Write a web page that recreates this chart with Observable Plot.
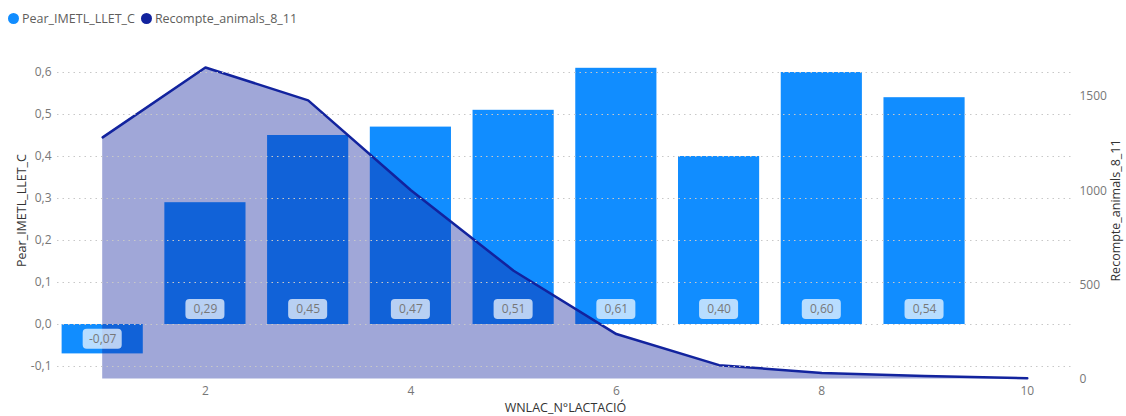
<!DOCTYPE html>
<html>
<head>
<meta charset="utf-8">
<script src="https://cdn.jsdelivr.net/npm/d3@7"></script>
<script src="https://cdn.jsdelivr.net/npm/@observablehq/plot@0.6"></script>
<style>
  body { margin: 0; background: #fff; font-family: "Segoe UI", "Open Sans", sans-serif; }
  #legend { height: 36px; display: flex; align-items: center; padding-left: 8px; font-size: 12.5px; color: #605e5c; }
  #legend span.item { display: inline-flex; align-items: center; margin-right: 6px; }
  #legend span.dot { width: 11px; height: 11px; border-radius: 50%; display: inline-block; margin-right: 3px; }
</style>
</head>
<body>
<div id="legend"></div>
<div id="chart"></div>
<script>
// ---- data ----
const lactations = [1, 2, 3, 4, 5, 6, 7, 8, 9];
const pearValues = [-0.07, 0.29, 0.45, 0.47, 0.51, 0.61, 0.40, 0.60, 0.54];
const countLactations = [1, 2, 3, 4, 5, 6, 7, 8, 9, 10];
const countValues = [1283, 1654, 1479, 1002, 575, 239, 74, 32, 16, 5];
const leftTicks = [-0.1, 0, 0.1, 0.2, 0.3, 0.4, 0.5, 0.6];
const rightTicks = [0, 500, 1000, 1500];
const xTicks = [2, 4, 6, 8, 10];
const seriesNames = ["Pear_IMETL_LLET_C", "Recompte_animals_8_11"];
const xTitle = "WNLAC_N°LACTACIÓ";
const seriesColors = ["#118DFF", "#12239E"];

// ---- layout ----
const W = 1126, H = 380;
const yDomain = [-0.13, 0.63];
const yRange = [342.6, 23.4];
const countMax = 1694;
const toY = c => yDomain[0] + (c / countMax) * (yDomain[1] - yDomain[0]);
const fromY = y => (y - yDomain[0]) / (yDomain[1] - yDomain[0]) * countMax;

const bars = lactations.map((x, i) => ({x, v: pearValues[i]}));
const counts = countLactations.map((x, i) => ({x, c: countValues[i]}));
const halfBar = 0.395;
const boxHalfW = 0.19;
const boxHalfH = 10 / 420;
const labelY = d => d.v < 0 ? d.v / 2 : 15 / 420;

const fmt = v => d3.format(".1f")(v).replace(".", ",").replace("−", "-");
const fmt2 = v => d3.format(".2f")(v).replace(".", ",").replace("−", "-");

// legend
const leg = document.getElementById("legend");
seriesNames.forEach((n, i) => {
  const s = document.createElement("span");
  s.className = "item";
  s.innerHTML = `<span class="dot" style="background:${seriesColors[i]}"></span>${n}`;
  leg.appendChild(s);
});

const chart = Plot.plot({
  width: W,
  height: H,
  marginLeft: 57,
  marginRight: 53,
  marginTop: 23.4,
  marginBottom: 37.4,
  style: {fontFamily: "'Segoe UI', 'Open Sans', sans-serif", fontSize: "12px", background: "#fff"},
  x: {domain: [0.56, 10.45], range: [57, 1073]},
  y: {domain: yDomain, range: yRange},
  marks: [
    Plot.rect(bars, {
      x1: d => d.x - halfBar, x2: d => d.x + halfBar,
      y1: 0, y2: d => d.v, fill: seriesColors[0]
    }),
    Plot.areaY(counts, {x: "x", y1: toY(0), y2: d => toY(d.c), fill: seriesColors[1], fillOpacity: 0.4}),
    Plot.line(counts, {x: "x", y: d => toY(d.c), stroke: seriesColors[1], strokeWidth: 2.5}),
    Plot.gridY(leftTicks, {stroke: "#c8c8c8", strokeOpacity: 1, strokeDasharray: "1.5,4"}),
    Plot.rect(bars, {
      x1: d => d.x - boxHalfW, x2: d => d.x + boxHalfW,
      y1: d => labelY(d) - boxHalfH, y2: d => labelY(d) + boxHalfH,
      fill: "#ffffff", fillOpacity: 0.7, rx: 4
    }),
    Plot.text(bars, {x: "x", y: labelY, text: d => fmt2(d.v), fill: "#777", fontSize: 12}),
    Plot.axisY(leftTicks, {
      anchor: "left", tickSize: 0, tickPadding: 6, tickFormat: fmt, color: "#777",
      label: seriesNames[0], labelAnchor: "center", labelOffset: 40, labelArrow: "none", fontSize: 12
    }),
    Plot.axisY(rightTicks.map(toY), {
      anchor: "right", tickSize: 0, tickPadding: 6, tickFormat: v => String(Math.round(fromY(v))), color: "#777",
      label: seriesNames[1], labelAnchor: "center", labelOffset: 46, labelArrow: "none", fontSize: 12
    }),
    Plot.axisX(xTicks, {
      anchor: "bottom", tickSize: 0, tickPadding: 7, color: "#777",
      label: xTitle, labelAnchor: "center", labelOffset: 33, labelArrow: "none", fontSize: 12
    })
  ]
});
document.getElementById("chart").appendChild(chart);
// style axis titles: darker and slightly larger; shift y titles up to match reference
chart.querySelectorAll("g[aria-label$='axis label']").forEach(g => {
  g.setAttribute("fill", "#333");
  g.querySelectorAll("text").forEach(t => { t.setAttribute("fill", "#333"); t.style.fontSize = "12.5px"; });
  if (g.getAttribute("aria-label").startsWith("y")) {
    const tr = g.getAttribute("transform") || "";
    g.setAttribute("transform", "translate(0,-9) " + tr);
  }
});
</script>
</body>
</html>
